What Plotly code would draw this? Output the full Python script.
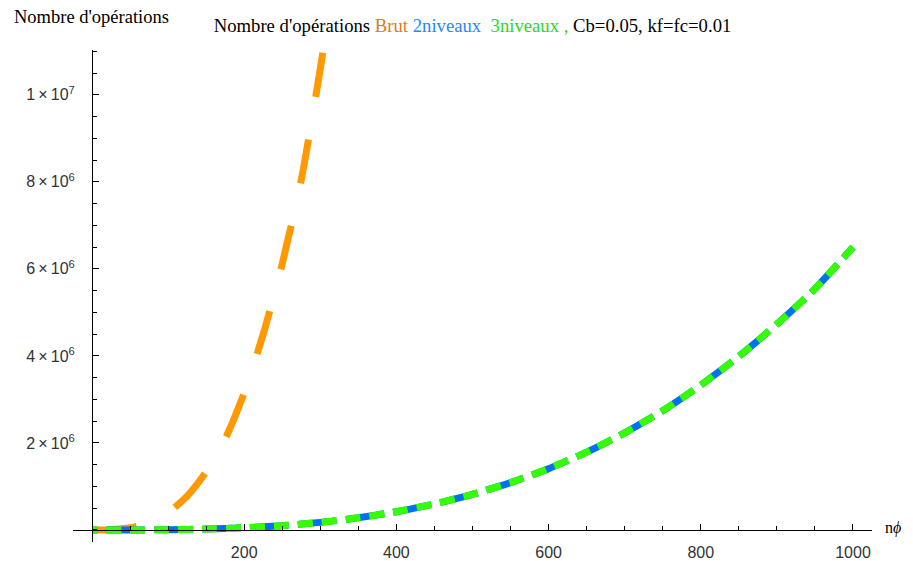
import plotly.graph_objects as go

# ---- data ----
x_brut = [0, 25, 50, 75, 100, 125, 150, 175, 200, 225, 250, 275, 300, 320]
y_brut = [0, 6000, 50000, 170000, 400000, 780000, 1340000, 2090000, 3150000,
          4500000, 6120000, 8050000, 10600000, 12900000]

x_niv = [0, 50, 100, 150, 200, 250, 300, 350, 400, 450, 500, 550, 600, 650,
         700, 750, 800, 850, 900, 950, 1000]
y_2niv = [0, 800, 6500, 22000, 52000, 100000, 175000, 280000, 420000, 600000,
          820000, 1090000, 1410000, 1790000, 2230000, 2740000, 3330000,
          3990000, 4730000, 5540000, 6500000]
y_3niv = [0, 800, 6500, 22000, 52000, 100000, 175000, 280000, 420000, 600000,
          820000, 1090000, 1410000, 1790000, 2230000, 2740000, 3330000,
          3990000, 4730000, 5540000, 6500000]

x_tickvals = [200, 400, 600, 800, 1000]
x_ticktext = ["200", "400", "600", "800", "1000"]
y_tickvals = [2e6, 4e6, 6e6, 8e6, 1e7]
y_ticktext = ["2\u2009\u00d7\u200910<sup>6</sup>", "4\u2009\u00d7\u200910<sup>6</sup>",
              "6\u2009\u00d7\u200910<sup>6</sup>", "8\u2009\u00d7\u200910<sup>6</sup>",
              "1\u2009\u00d7\u200910<sup>7</sup>"]

XR = [-25, 1025]
YR = [-276000, 11030000]

fig = go.Figure()
fig.add_trace(go.Scatter(x=x_brut, y=y_brut, mode="lines", name="Brut",
                         line=dict(color="#FF9900", width=7, dash="45px,43px",
                                   shape="spline", smoothing=0.6)))
fig.add_trace(go.Scatter(x=x_niv, y=y_2niv, mode="lines", name="2niveaux",
                         line=dict(color="#0070F5", width=7, dash="5px,9px,34px,0px",
                                   shape="spline", smoothing=0.6)))
fig.add_trace(go.Scatter(x=x_niv, y=y_3niv, mode="lines", name="3niveaux",
                         line=dict(color="#33FF00", width=7, dash="5px,9px,15px,9px,10px,0px",
                                   shape="spline", smoothing=0.6)))

xpos = (0 - XR[0]) / (XR[1] - XR[0])
ypos = (0 - YR[0]) / (YR[1] - YR[0])

tickfont = dict(family="Liberation Sans, Arial, sans-serif", size=16, color="#333333")
serif = "Liberation Serif, Times New Roman, serif"

# page body adds an 8px offset; plot area lands at screen x 73-872, y 50-542
fig.update_layout(
    width=913, height=561,
    margin=dict(l=65, r=49, t=42, b=27, autoexpand=False),
    paper_bgcolor="white", plot_bgcolor="white",
    showlegend=False,
    title=dict(
        text=("Nombre d'opérations <span style='color:#E07A1E'>Brut</span> "
              "<span style='color:#2288FF'>2niveaux</span>  "
              "<span style='color:#2BDB10'>3niveaux ,</span> Cb=0.05, kf=fc=0.01"),
        x=0.5, xref="paper", xanchor="center",
        y=1 - 17 / 561, yref="container", yanchor="middle",
        font=dict(family=serif, size=18.7, color="black"),
    ),
    xaxis=dict(
        range=XR, anchor="free", position=ypos, automargin=False,
        showline=True, linecolor="black", linewidth=1,
        showgrid=False, zeroline=False,
        tickmode="array", tickvals=x_tickvals, ticktext=x_ticktext,
        ticks="inside", ticklen=6, tickcolor="black", tickwidth=1,
        minor=dict(dtick=50, ticks="inside", ticklen=4, tickcolor="black", showgrid=False),
        ticklabelstandoff=8,
        tickfont=tickfont,
    ),
    yaxis=dict(
        range=YR, anchor="free", position=xpos, automargin=False,
        showline=True, linecolor="black", linewidth=1,
        showgrid=False, zeroline=False,
        tickmode="array", tickvals=y_tickvals, ticktext=y_ticktext,
        ticks="inside", ticklen=6, tickcolor="black", tickwidth=1,
        minor=dict(dtick=500000, ticks="inside", ticklen=4, tickcolor="black", showgrid=False),
        ticklabelstandoff=14,
        tickfont=tickfont,
    ),
    annotations=[
        dict(text="Nombre d'opérations", xref="paper", yref="paper",
             x=(12 - 73) / 799, y=(542 - 17) / 492, xanchor="left", yanchor="middle",
             showarrow=False,
             font=dict(family=serif, size=18.5, color="black")),
        dict(text="n<i>\u03d5</i>", xref="paper", yref="paper",
             x=(883 - 73) / 799, y=(542 - 528) / 492, xanchor="left", yanchor="middle",
             showarrow=False,
             font=dict(family=serif, size=16, color="black")),
    ],
)

fig.write_html("out.html")
